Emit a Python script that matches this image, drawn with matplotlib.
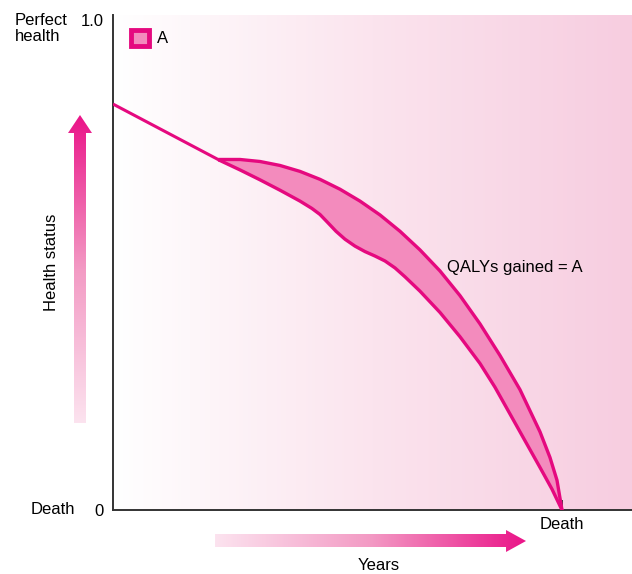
import numpy as np
import matplotlib
matplotlib.use("Agg")
import matplotlib.pyplot as plt
from matplotlib.colors import LinearSegmentedColormap
from matplotlib.patches import Polygon, Rectangle

plt.rcParams['font.family'] = ['Liberation Sans', 'DejaVu Sans']

# data (years 0..1, health 0..1)
base_x = [0.0, 0.2062]
base_y = [0.8283, 0.7131]

upper_x = [0.2062, 0.2447, 0.2832, 0.3218, 0.3603, 0.3988, 0.4374, 0.4759, 0.5145, 0.5530,
           0.5915, 0.6301, 0.6686, 0.7071, 0.7457, 0.7842, 0.8227, 0.8420, 0.8555, 0.8651]
upper_y = [0.7152, 0.7152, 0.7111, 0.7030, 0.6909, 0.6747, 0.6545, 0.6303, 0.6020, 0.5687,
           0.5307, 0.4877, 0.4374, 0.3798, 0.3152, 0.2455, 0.1596, 0.1071, 0.0606, 0.0]

lower_x = [0.2062, 0.2447, 0.2832, 0.3218, 0.3603, 0.3834, 0.3988, 0.4143, 0.4297, 0.4470,
           0.4663, 0.4855, 0.5048, 0.5241, 0.5434, 0.5626, 0.5915, 0.6301, 0.6686, 0.7071,
           0.7360, 0.7649, 0.7938, 0.8227, 0.8459, 0.8651]
lower_y = [0.7131, 0.6939, 0.6737, 0.6525, 0.6303, 0.6152, 0.6030, 0.5859, 0.5687, 0.5525,
           0.5384, 0.5273, 0.5182, 0.5081, 0.4939, 0.4758, 0.4465, 0.4030, 0.3535, 0.2990,
           0.2505, 0.1960, 0.1414, 0.0869, 0.0424, 0.0]

death_x = 0.8651
MAG = "#e5097f"
FILL = "#f38bbd"
FS = 12

fig = plt.figure(figsize=(6.32, 5.74), dpi=100)
W, H = 632, 574
ax = fig.add_axes([113 / W, (H - 510) / H, (W - 113) / W, (510 - 15) / H])

# background gradient
bg = LinearSegmentedColormap.from_list("bg", ["#ffffff", "#fbe4ee", "#f7cde0"])
ax.imshow(np.linspace(0, 1, 256).reshape(1, -1), cmap=bg, aspect="auto",
          extent=[0, 1, 0, 1.01], zorder=0)
ax.set_xlim(0, 1)
ax.set_ylim(0, 1.01)

ax.fill(upper_x + lower_x[::-1], upper_y + lower_y[::-1], color=FILL, zorder=2, lw=0)
ax.plot(base_x, base_y, color=MAG, lw=2.2, zorder=3, solid_capstyle="butt")
ax.plot(upper_x, upper_y, color=MAG, lw=2.4, zorder=3, solid_joinstyle="round")
ax.plot(lower_x, lower_y, color=MAG, lw=2.4, zorder=3, solid_joinstyle="round")

for s in ["top", "right"]:
    ax.spines[s].set_visible(False)
for s in ["left", "bottom"]:
    ax.spines[s].set_color("#333333")
    ax.spines[s].set_linewidth(1.4)

ax.set_xticks([death_x])
ax.set_xticklabels(["Death"], fontsize=FS)
ax.tick_params(axis="x", direction="in", length=7, width=1.2, color="#222222", pad=5)
ax.set_yticks([0, 1.0])
ax.set_yticklabels(["0", "1.0"], fontsize=FS)
ax.tick_params(axis="y", length=0, pad=7)

ax.text(-0.073, 0.0, "Death", ha="right", va="center", fontsize=FS,
        transform=ax.get_yaxis_transform(), clip_on=False)
ax.text(-0.19, 1.015, "Perfect\nhealth", ha="left", va="top", fontsize=FS, multialignment="left",
        transform=ax.get_yaxis_transform(), clip_on=False, linespacing=1.15)
ax.text(0.6435, 0.495, "QALYs gained = A", fontsize=FS, ha="left", va="center")

# legend key
ax.add_patch(Rectangle((0.034, 0.947), 0.035, 0.032, facecolor=FILL, edgecolor=MAG, lw=3.5, zorder=4))
ax.text(0.0848, 0.962, "A", fontsize=FS, ha="left", va="center")

# overlay in pixel coordinates for the gradient arrows and labels
ov = fig.add_axes([0, 0, 1, 1], zorder=5)
ov.axis("off")
ov.patch.set_alpha(0)

arr = LinearSegmentedColormap.from_list("arr", ["#fce3ef", "#f39ac4", "#ea1488"])

vpoly = Polygon([(74, 423), (86, 423), (86, 133), (92, 133), (80, 115), (68, 133), (74, 133)],
                closed=True, facecolor="none", edgecolor="none")
ov.add_patch(vpoly)
im = ov.imshow(np.linspace(1, 0, 256).reshape(-1, 1), cmap=arr, aspect="auto",
               extent=[68, 92, 423, 115])
im.set_clip_path(vpoly)

hpoly = Polygon([(215, 534), (506, 534), (506, 530), (526, 541), (506, 552), (506, 547), (215, 547)],
                closed=True, facecolor="none", edgecolor="none")
ov.add_patch(hpoly)
im2 = ov.imshow(np.linspace(0, 1, 256).reshape(1, -1), cmap=arr, aspect="auto",
                extent=[215, 526, 552, 530])
im2.set_clip_path(hpoly)
ov.set_xlim(0, W)
ov.set_ylim(H, 0)

ov.text(52, 262, "Health status", rotation=90, ha="center", va="center", fontsize=FS)
ov.text(379, 566, "Years", ha="center", va="center", fontsize=FS)

fig.savefig("out.png", dpi=100)
